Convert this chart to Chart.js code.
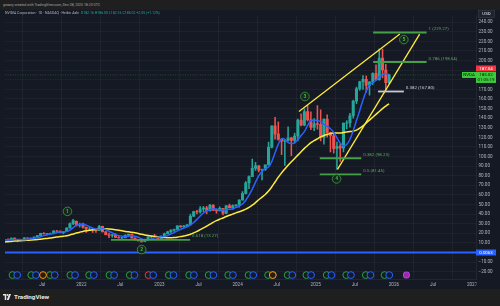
<!DOCTYPE html>
<html><head><meta charset="utf-8">
<script src="https://cdn.jsdelivr.net/npm/chart.js@4.4.1/dist/chart.umd.min.js"></script>
<style>
html,body{margin:0;padding:0;width:500px;height:306px;overflow:hidden;background:#1f1f1f;font-family:Roboto,"Liberation Sans",sans-serif;}
.s{position:absolute;transform:scale(0.5);transform-origin:0 0;white-space:nowrap;}
#hdr{position:absolute;left:0;top:0;width:500px;height:10px;background:#1f1f1f;}
#pane{position:absolute;left:0;top:10px;width:500px;height:279px;background:#151924;}
#ftr{position:absolute;left:0;top:289px;width:500px;height:17px;background:#1f1f1f;}
canvas{position:absolute;left:0;top:10px;}
</style></head>
<body>
<div id="hdr"><div class="s" style="left:3px;top:3px;font-size:7px;color:#a3a6af;">gnaary created with TradingView.com, Dec 08, 2025 18:23 UTC</div></div>
<div id="pane"></div>
<canvas id="c" width="500" height="279"></canvas>
<div class="s" style="left:5px;top:11px;font-size:7px;color:#b2b5be;">NVIDIA Corporation · 1D · NASDAQ · Heikin Ashi&nbsp; <span style="color:#26a69a">O182.16 H186.00 L182.16 C185.02 +2.05 (+1.12%)</span></div>
<div id="ftr">
<svg style="position:absolute;left:3px;top:5px" width="8" height="6" viewBox="0 0 16 12"><path d="M0 0h6.5v12h-3V3H0z" fill="#e6e6e6"/><circle cx="9" cy="2" r="2" fill="#e6e6e6"/><path d="M12 0h4l-4.5 12H7.5z" fill="#e6e6e6"/></svg>
<div class="s" style="left:14px;top:4px;font-size:12.5px;font-weight:bold;color:#e6e6e6;">TradingView</div>
</div>
<script>
const periods = ['2021-01a','2021-01b','2021-02a','2021-02b','2021-03a','2021-03b','2021-04a','2021-04b','2021-05a','2021-05b','2021-06a','2021-06b','2021-07a','2021-07b','2021-08a','2021-08b','2021-09a','2021-09b','2021-10a','2021-10b','2021-11a','2021-11b','2021-12a','2021-12b',
'2022-01a','2022-01b','2022-02a','2022-02b','2022-03a','2022-03b','2022-04a','2022-04b','2022-05a','2022-05b','2022-06a','2022-06b','2022-07a','2022-07b','2022-08a','2022-08b','2022-09a','2022-09b','2022-10a','2022-10b','2022-11a','2022-11b','2022-12a','2022-12b',
'2023-01a','2023-01b','2023-02a','2023-02b','2023-03a','2023-03b','2023-04a','2023-04b','2023-05a','2023-05b','2023-06a','2023-06b','2023-07a','2023-07b','2023-08a','2023-08b','2023-09a','2023-09b','2023-10a','2023-10b','2023-11a','2023-11b','2023-12a','2023-12b',
'2024-01a','2024-01b','2024-02a','2024-02b','2024-03a','2024-03b','2024-04a','2024-04b','2024-05a','2024-05b','2024-06a','2024-06b','2024-07a','2024-07b','2024-08a','2024-08b','2024-09a','2024-09b','2024-10a','2024-10b','2024-11a','2024-11b','2024-12a','2024-12b',
'2025-01a','2025-01b','2025-02a','2025-02b','2025-03a','2025-03b','2025-04a','2025-04b','2025-05a','2025-05b','2025-06a','2025-06b','2025-07a','2025-07b','2025-08a','2025-08b','2025-09a','2025-09b','2025-10a','2025-10b','2025-11a','2025-11b','2025-12a'];

const openP = [13.1,13.3,13.1,15.0,13.6,12.9,13.4,15.2,15.0,14.6,16.3,17.7,20.0,19.6,19.5,20.0,22.4,22.2,20.7,21.8,25.5,30.0,32.6,28.5,
29.8,26.4,24.4,24.4,24.3,23.0,27.3,21.5,18.5,17.9,18.6,15.6,15.2,15.3,18.2,19.0,15.1,13.1,12.1,11.5,13.5,16.3,16.9,16.6,
14.6,17.0,19.5,21.6,23.2,24.0,27.8,26.7,27.7,28.9,37.8,42.7,42.3,45.4,46.5,43.5,49.3,43.9,43.5,46.0,40.8,48.8,46.7,48.9,
49.5,54.7,61.5,72.6,79.1,87.8,90.4,86.0,86.4,91.4,109.6,131.9,123.5,117.9,116.0,116.8,119.4,116.8,121.4,138.0,132.8,146.8,138.3,130.4,
134.3,133.6,120.1,138.9,124.9,121.7,108.4,110.7,108.9,134.8,135.1,142.5,157.8,170.7,177.9,180.5,174.2,177.8,186.6,180.0,202.5,190.2,177.0];
const highP = [13.6,14.2,15.1,15.3,13.8,13.6,15.6,15.4,15.2,16.2,17.7,20.1,20.8,19.9,20.3,22.9,23.0,22.6,21.9,25.8,31.0,34.6,32.8,30.7,
30.8,26.6,26.1,25.5,24.6,28.3,27.5,22.2,20.2,18.9,19.6,17.4,16.0,18.3,19.3,19.3,15.4,13.9,13.5,13.9,16.4,17.3,18.9,16.7,
17.4,20.3,22.2,23.9,24.3,27.9,27.9,28.2,29.0,40.0,43.0,43.9,47.9,48.0,48.1,50.2,49.9,45.0,47.6,46.0,49.0,50.5,49.7,50.0,
55.0,63.5,74.0,80.0,97.4,94.0,90.6,87.0,91.0,115.0,132.0,140.8,136.1,119.0,118.0,131.0,120.2,124.4,139.0,144.4,149.7,152.9,146.5,139.6,
153.1,148.7,139.3,143.4,125.5,125.0,115.1,113.0,135.0,137.4,145.0,158.7,172.4,178.5,184.5,184.0,178.0,187.3,195.6,212.2,212.0,196.0,185.7];
const lowP = [12.8,12.9,13.0,13.0,11.5,12.4,13.3,14.6,13.6,14.5,16.2,17.6,19.0,18.0,19.3,19.5,22.0,20.5,19.5,21.7,25.4,29.0,27.5,26.5,
25.4,20.9,23.4,20.9,21.0,23.0,21.5,18.5,15.5,15.9,15.6,15.0,14.0,15.3,17.5,15.0,13.1,12.1,10.8,11.3,13.1,15.0,16.5,14.1,
14.0,16.9,19.4,20.4,22.0,24.0,26.3,26.2,27.0,28.8,37.5,40.2,41.0,42.5,40.3,43.0,43.5,40.9,43.2,39.2,40.5,46.5,45.0,48.0,
47.3,54.5,61.0,66.4,79.0,85.5,84.0,75.6,85.5,91.0,109.0,118.0,117.0,102.0,90.7,116.0,100.9,114.0,116.3,132.0,132.0,137.0,128.0,126.9,
128.5,116.3,113.0,120.2,104.8,103.6,86.6,95.0,104.8,129.0,130.5,140.0,155.0,169.0,170.0,167.0,164.0,175.0,179.0,179.5,182.0,169.5,176.0];
const closeP = [13.3,13.0,15.0,13.6,12.9,13.3,15.2,15.0,14.6,16.2,17.7,20.0,19.6,19.5,20.0,22.4,22.2,20.7,21.8,25.5,30.0,33.3,28.5,29.4,
26.4,24.4,24.4,24.3,23.0,27.3,21.5,18.5,17.9,18.6,15.6,15.2,15.3,18.2,19.0,15.1,13.1,12.1,11.5,13.5,16.3,16.9,16.6,14.6,
17.0,19.5,21.6,23.2,24.0,27.8,26.7,27.7,28.9,37.8,42.7,42.3,45.4,46.5,43.5,49.3,43.9,43.5,46.0,40.8,48.8,46.7,48.9,49.5,
54.7,61.5,72.6,79.1,87.8,90.4,86.0,86.4,91.4,109.6,131.9,123.5,117.9,116.0,116.8,119.4,116.8,121.4,138.0,132.8,146.8,138.3,130.4,134.3,
133.6,120.1,138.9,124.9,121.7,108.4,110.7,108.9,134.8,135.1,142.5,157.8,170.7,177.9,180.5,174.2,177.8,186.6,180.0,202.5,190.2,177.0,185.02];

const ma50 = [13.1,13.1,13.2,13.6,13.6,13.4,13.3,13.8,14.3,14.7,15.3,16.4,17.6,18.6,19.4,19.9,20.7,21.5,21.6,21.8,23.3,26.0,28.4,29.3,
29.5,28.5,27.0,25.3,24.5,24.2,24.8,24.0,22.2,20.5,18.8,17.6,17.0,16.6,16.9,17.4,17.0,15.8,14.4,13.1,13.0,14.0,15.3,16.0,
16.3,16.8,17.8,19.3,20.8,22.6,24.2,25.6,26.8,28.5,31.3,34.5,38.0,41.2,43.4,44.6,45.6,45.3,44.5,44.2,44.4,45.0,45.6,47.0,
48.3,50.5,54.5,59.8,66.0,73.4,80.0,84.5,87.3,89.0,95.0,104.0,113.0,118.5,118.0,114.5,113.5,114.3,117.5,122.0,126.0,132.5,137.5,138.0,
137.5,136.5,133.5,131.5,129.0,125.5,119.5,114.0,111.0,112.5,118.0,127.0,137.5,148.0,159.0,168.0,174.5,177.0,179.5,183.0,185.5,186.5,185.5];
const ma200 = [11.0,11.3,11.6,11.9,12.1,12.3,12.6,12.8,13.0,13.2,13.5,13.9,14.3,14.7,15.1,15.6,16.1,16.6,17.0,17.5,18.3,19.3,20.3,21.2,
22.0,22.6,23.1,23.6,23.9,24.3,24.6,24.7,24.6,24.3,23.8,23.2,22.6,22.0,21.6,21.2,20.5,19.8,19.0,18.3,17.7,17.2,16.8,16.4,
16.0,15.7,15.5,15.5,15.6,16.0,16.6,17.3,18.0,19.0,20.5,22.0,23.8,25.6,27.5,29.5,31.5,33.2,34.7,36.0,37.5,38.8,40.0,41.3,
42.5,43.8,45.2,47.0,49.3,52.0,55.0,57.7,60.5,64.0,68.5,73.5,78.5,83.0,87.0,91.0,94.5,98.0,101.5,105.0,108.5,111.5,114.5,116.5,
118.5,120.5,122.0,123.0,124.0,124.5,124.5,124.5,125.0,125.5,126.0,126.5,127.5,129.5,132.0,135.0,138.0,141.0,144.0,147.0,150.0,152.5,155.0];

// drawings (data coordinates: decimal year, price)
const fibLevels = [229.27, 198.54, 167.80, 98.23, 81.45, 13.27];
const fibLabels = ['1 (229.27)', '0.786 (198.54)', '0.382 (167.80)', '0.382 (98.23)', '0.5 (81.45)', '0.618 (13.27)'];
const fibFrom = [2025.734, 2025.734, 2025.797, 2025.051, 2025.051, 2022.380];
const fibTo = [2026.418, 2026.418, 2026.127, 2025.582, 2025.582, 2023.392];
const trendA = [[2024.785, 146.9], [2026.076, 227.6]];
const trendB = [[2025.278, 86.7], [2026.329, 227.6]];
const waveNames = ['1','2','3','4','5'];
const waveX = [2021.823, 2022.772, 2024.861, 2025.266, 2026.127];
const waveY = [42.9, 3.1, 162.6, 76.7, 221.9];
const earningsX = [2021.12,2021.36,2021.60,2021.86,2022.10,2022.36,2022.62,2022.86,2023.12,2023.38,2023.63,2023.88,2024.14,2024.39,2024.64,2024.88,2025.14,2025.39,2025.64,2025.88];
const dividendsX = [2021.18,2021.42,2021.66,2021.92,2022.16,2022.42,2022.68,2022.92,2023.18,2023.44,2023.69,2023.94,2024.20,2024.45,2024.70,2024.94,2025.20,2025.45,2025.70,2025.94];
const splitsX = [2021.51, 2024.45];
const upcomingX = [2026.16];
const eventLevel = -23.5;
const baseLine = 0.0063;
const lastPrice = 185.02;
const prevPrice = 187.04;
const countdown = '01:05:19';

const GREEN = '#26a69a', RED = '#ef5350';
const toYear = p => { const yy = +p.slice(0,4), mm = +p.slice(5,7); return yy + (mm-1)/12 + (p[7]==='a' ? 1/48 : 3/48); };
const xs = periods.map(toYear);
const candleCol = xs.map((_,i) => closeP[i] >= openP[i] ? GREEN : RED);
const pts = (ys) => xs.map((x,i)=>({x, y: ys[i]}));
const seg = (p) => p.map(q=>({x:q[0], y:q[1]}));

const datasets = [
  {type:'scatter', data: waveX.map((x,i)=>({x, y: waveY[i]})), pointRadius:4.3, pointBackgroundColor:'#16261d', pointBorderColor:'#3f9e45', pointBorderWidth:0.8, order:0},
  {type:'scatter', data: upcomingX.map(x=>({x, y:eventLevel})), pointStyle:'rectRounded', pointRadius:3.4, pointBackgroundColor:'#9c27b0', pointBorderColor:'#d05ce3', pointBorderWidth:0.8, order:1},
  {type:'scatter', data: splitsX.map(x=>({x, y:eventLevel})), pointRadius:3.4, pointBackgroundColor:'#2a1d0c', pointBorderColor:'#ff9800', pointBorderWidth:1, order:1},
  {type:'scatter', data: dividendsX.map(x=>({x, y:eventLevel})), pointRadius:3.4, pointBackgroundColor:'#121a30', pointBorderColor:'#2962ff', pointBorderWidth:1, order:2},
  {type:'scatter', data: earningsX.map(x=>({x, y:eventLevel})), pointRadius:3.4, pointBackgroundColor:'#10211a', pointBorderColor: earningsX.map((_,i)=> i===7 ? '#f23645' : '#2e9e4a'), pointBorderWidth:1, order:3}
];
fibLevels.forEach((lv,i)=>{
  datasets.push({type:'line', data:[{x:fibFrom[i], y:lv},{x:fibTo[i], y:lv}], borderColor: i===2 ? '#c8cad0' : '#43a047', borderWidth:1.8, pointRadius:0, order:4});
});
datasets.push({type:'line', data: seg(trendA), borderColor:'#ffeb3b', borderWidth:1.3, pointRadius:0, order:5});
datasets.push({type:'line', data: seg(trendB), borderColor:'#ffeb3b', borderWidth:1.3, pointRadius:0, order:5});
datasets.push({type:'line', data:[{x:2020.9,y:baseLine},{x:2027.2,y:baseLine}], borderColor:'#2962ff', borderWidth:2, pointRadius:0, order:5});
datasets.push({type:'line', data: pts(ma50), borderColor:'#2962ff', borderWidth:1.5, pointRadius:0, tension:0.35, order:6});
datasets.push({type:'line', data: pts(ma200), borderColor:'#ffeb3b', borderWidth:1.5, pointRadius:0, tension:0.35, order:7});
datasets.push({type:'bar', data: xs.map((x,i)=>({x, y:[openP[i], closeP[i]]})), backgroundColor: candleCol, barThickness:2.4, grouped:false, borderWidth:0, order:8});
datasets.push({type:'bar', data: xs.map((x,i)=>({x, y:[lowP[i], highP[i]]})), backgroundColor: candleCol, barThickness:0.9, grouped:false, borderWidth:0, order:9});

const FONT = 'Roboto, "Liberation Sans", sans-serif';
function box(ctx, x, y, w, h, fill, text, color){
  ctx.fillStyle = fill; ctx.fillRect(x, y, w, h);
  if (text){ ctx.fillStyle = color; ctx.fillText(text, x + w/2, y + h/2 + 0.3); }
}
const overlay = {
  id:'overlay',
  afterDatasetsDraw(chart){
    const {ctx, chartArea:a, scales:{x, y}} = chart;
    ctx.save();
    // hide the part of the time axis that runs under the price scale
    ctx.fillStyle = '#151924'; ctx.fillRect(a.right + 0.5, a.bottom + 0.5, 24, 10);
    // last price line
    const py = y.getPixelForValue(lastPrice);
    ctx.setLineDash([1,1.5]); ctx.strokeStyle='rgba(60,200,60,0.45)'; ctx.lineWidth=0.8;
    ctx.beginPath(); ctx.moveTo(a.left, py); ctx.lineTo(a.right, py); ctx.stroke(); ctx.setLineDash([]);
    // fib labels
    ctx.font = '4.4px ' + FONT; ctx.textBaseline='middle'; ctx.textAlign='left';
    fibLevels.forEach((lv,i)=>{
      ctx.fillStyle = i===2 ? '#d1d4dc' : '#5aa95e';
      ctx.fillText(fibLabels[i], x.getPixelForValue(fibTo[i]) + 2, y.getPixelForValue(lv) - 3.5);
    });
    // wave digits
    ctx.font = 'bold 5px ' + FONT; ctx.textAlign='center';
    waveNames.forEach((n,i)=>{ ctx.fillStyle='#4caf50'; ctx.fillText(n, x.getPixelForValue(waveX[i]), y.getPixelForValue(waveY[i]) + 0.3); });
    // right axis labels
    ctx.font = '4.4px ' + FONT; ctx.textAlign='center';
    const r = a.right;
    box(ctx, r, py - 3, 20, 11, '#3cc93c', null);
    ctx.fillStyle = '#0b1a0b'; ctx.fillText(lastPrice.toFixed(2), r + 10, py + 0.3); ctx.fillText(countdown, r + 10, py + 5.3);
    box(ctx, r - 14, py - 3, 14, 6, '#3cc93c', 'NVDA', '#0b1a0b');
    box(ctx, r, py - 9.5, 20, 6, '#f23645', prevPrice.toFixed(2), '#ffffff');
    const by = y.getPixelForValue(baseLine);
    box(ctx, r, by - 3, 20, 6, '#2962ff', baseLine.toFixed(4), '#ffffff');
    ctx.fillStyle = '#1e222d'; ctx.fillRect(r + 2.5, 0.5, 16, 7);
    ctx.strokeStyle = '#434651'; ctx.lineWidth = 0.5; ctx.strokeRect(r + 2.5, 0.5, 16, 7);
    ctx.fillStyle = '#e0e3eb'; ctx.fillText('USD', r + 10.5, 4.3);
    ctx.restore();
  }
};

new Chart(document.getElementById('c'), {
  type:'scatter',
  data:{datasets},
  plugins:[overlay],
  options:{
    responsive:false, animation:false, devicePixelRatio:1,
    layout:{padding:0},
    plugins:{legend:{display:false}, tooltip:{enabled:false}},
    scales:{
      x:{type:'linear', min:2021.025, max:2027.05, offset:false,
        grid:{color:'rgba(255,255,255,0.045)', drawTicks:false},
        border:{display:true, color:'rgba(255,255,255,0.06)'},
        ticks:{stepSize:0.5, includeBounds:false, autoSkip:false, maxRotation:0, padding:3, color:'#b2b5be', font:{size:4.6, family:FONT},
          callback:(v)=> Math.abs(v - Math.round(v)) < 0.01 ? String(Math.round(v)) : 'Jul'},
        afterFit(s){ s.height = 10; s.paddingLeft = 0; s.paddingRight = 0; }
      },
      y:{type:'linear', position:'right', min:-27.6, max:247.4,
        grid:{color:'rgba(255,255,255,0.035)', drawTicks:false},
        border:{display:true, color:'rgba(255,255,255,0.06)'},
        ticks:{stepSize:10, includeBounds:false, padding:2.5, color:'#b2b5be', font:{size:4.6, family:FONT},
          callback:(v)=>{ const n = Math.round(v); if (n===180||n===190||n===0) return ''; return (n<0?'\u2212':'') + Math.abs(n).toFixed(2); }},
        afterFit(s){ s.width = 24; s.paddingTop = 0; s.paddingBottom = 0; }
      }
    }
  }
});
</script>
</body></html>
